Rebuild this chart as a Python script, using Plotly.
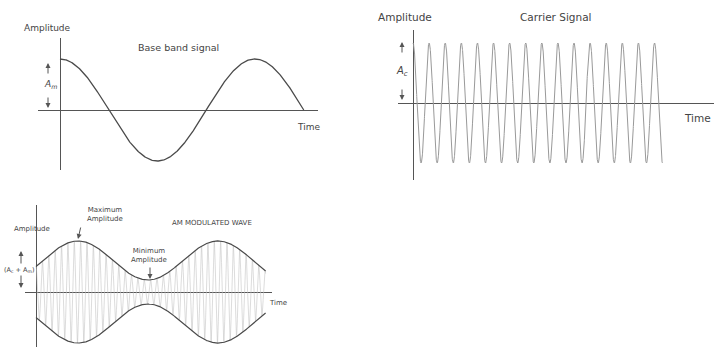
import numpy as np
import plotly.graph_objects as go

# Valores
# Sinal de banda base (cosseno): amplitude e numero de ciclos desenhados
base_amp = 1.0
base_ciclos = 1.25

# Portadora: amplitude e numero de ciclos desenhados
port_amp = 1.0
port_ciclos = 15.5

# Onda AM: amplitude da portadora, amplitude da moduladora,
# ciclos da portadora por ciclo da moduladora, fase do maximo e fim
am_ac = 1.0
am_am = 0.62
am_ciclos_port = 22
am_fase_max = 0.3
am_fim = 1.64

W, H = 714, 347
tinta = '#555555'
fonte = 'DejaVu Sans'


def px(x, y):
    return x / W, 1 - y / H


# Curvas
t1 = np.linspace(0, base_ciclos, 400)
y1 = base_amp * np.cos(2 * np.pi * t1)

t2 = np.linspace(0, port_ciclos, 3000)
y2 = port_amp * np.cos(2 * np.pi * t2)

t3 = np.linspace(0, am_fim, 6000)
env = am_ac + am_am * np.cos(2 * np.pi * (t3 - am_fase_max))
y3 = env * np.cos(2 * np.pi * am_ciclos_port * t3)

fig = go.Figure()
fig.add_trace(go.Scatter(x=t1, y=y1, mode='lines', xaxis='x', yaxis='y',
                         line=dict(color='#4a4a4a', width=1.3)))
fig.add_trace(go.Scatter(x=t2, y=y2, mode='lines', xaxis='x2', yaxis='y2',
                         line=dict(color='#999999', width=1)))
fig.add_trace(go.Scatter(x=t3, y=y3, mode='lines', xaxis='x3', yaxis='y3',
                         line=dict(color='#c4c4c4', width=0.6)))
fig.add_trace(go.Scatter(x=t3, y=env, mode='lines', xaxis='x3', yaxis='y3',
                         line=dict(color='#4a4a4a', width=1.2)))
fig.add_trace(go.Scatter(x=t3, y=-env, mode='lines', xaxis='x3', yaxis='y3',
                         line=dict(color='#4a4a4a', width=1.2)))

eixo = dict(showgrid=False, showticklabels=False, ticks='', showline=False,
            zeroline=True, zerolinecolor=tinta, zerolinewidth=1.2, fixedrange=True)

fig.update_layout(
    width=W, height=H,
    margin=dict(l=0, r=0, t=0, b=0),
    paper_bgcolor='white', plot_bgcolor='rgba(0,0,0,0)',
    showlegend=False,
    font=dict(family=fonte, color='#444444'),
    xaxis=dict(eixo, domain=[38 / W, 318 / W], range=[-22 / 195, 258 / 195]),
    yaxis=dict(eixo, domain=[1 - 170 / H, 1 - 38 / H], range=[-60 / 51, 72 / 51]),
    xaxis2=dict(eixo, domain=[398 / W, 1.0], range=[-15 / 16.1, 301 / 16.1]),
    yaxis2=dict(eixo, domain=[1 - 180 / H, 1 - 30 / H], range=[-77 / 60, 73 / 60]),
    xaxis3=dict(eixo, domain=[25 / W, 272 / W], range=[-11 / 140, 236 / 140]),
    yaxis3=dict(eixo, domain=[0, 1 - 205 / H], range=[-55 / 31.5, 87 / 31.5]),
)

anots = []


def texto(x, y, s, size, xanchor='center', italic=False):
    xp, yp = px(x, y)
    if italic:
        s = '<i>' + s + '</i>'
    anots.append(dict(x=xp, y=yp, xref='paper', yref='paper', text=s,
                      showarrow=False, xanchor=xanchor, yanchor='middle',
                      font=dict(size=size, family=fonte, color='#444444')))


def seta(x, y, ax, ay):
    xp, yp = px(x, y)
    anots.append(dict(x=xp, y=yp, xref='paper', yref='paper', text='',
                      showarrow=True, ax=ax, ay=ay, arrowhead=2, arrowsize=1,
                      arrowwidth=1, arrowcolor='#555555'))


# Painel 1
texto(47, 28, 'Amplitude', 9)
texto(178, 48, 'Base band signal', 9.5)
texto(308, 127, 'Time', 9)
texto(50, 85, 'A<sub>m</sub>', 9, italic=True)
seta(48, 63, 0, 12)
seta(48, 108, 0, -12)

# Painel 2
texto(405, 17, 'Amplitude', 10.5)
texto(556, 17, 'Carrier Signal', 10.5)
texto(713, 118, 'Time', 10.5, xanchor='right')
texto(402, 72, 'A<sub>c</sub>', 10, italic=True)
seta(402, 42, 0, 12)
seta(402, 100, 0, -12)

# Painel 3
texto(32, 229, 'Amplitude', 7)
texto(212, 223, 'AM MODULATED WAVE', 7)
texto(105, 214, 'Maximum<br>Amplitude', 7)
texto(149, 255, 'Minimum<br>Amplitude', 7)
texto(278, 303, 'Time', 7)
texto(19, 270, '(A<sub>c</sub> + A<sub>m</sub>)', 6.5)
seta(21, 251, 0, 14)
seta(21, 288, 0, -14)
seta(78, 239, 3, -13)
seta(150, 279, 0, -13)

fig.update_layout(annotations=anots)
fig.write_html("out.html", config=dict(displayModeBar=False),
               post_script="document.body.style.margin='0';")
